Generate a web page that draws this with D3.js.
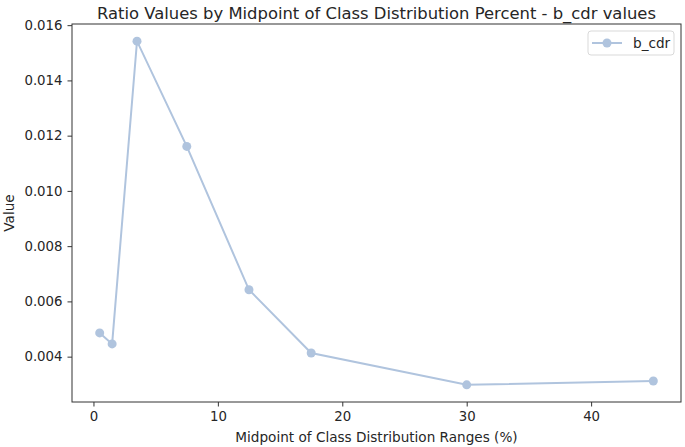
<!DOCTYPE html>
<html>
<head>
<meta charset="utf-8">
<script src="https://cdn.jsdelivr.net/npm/d3@7"></script>
<style>
    body { margin: 0; background: #fff; }
    svg text { font-family: "DejaVu Sans", sans-serif; fill: #262626; }
</style>
</head>
<body>
<div id="chart"></div>
<script>
// midpoints of the class distribution ranges (%)
const midpoints = [0.5, 1.5, 3.5, 7.5, 12.5, 17.5, 30, 45];
const bCdr = [0.00486, 0.00446, 0.01542, 0.01161, 0.00642, 0.00413, 0.00298, 0.00312];
const xTicks = [0, 10, 20, 30, 40];
const yTicks = [0.004, 0.006, 0.008, 0.010, 0.012, 0.014, 0.016];
const seriesName = "b_cdr";

const width = 685, height = 447;
const margin = { top: 24, right: 4, bottom: 45, left: 72 };
const innerW = width - margin.left - margin.right;
const innerH = height - margin.top - margin.bottom;
const color = "#b0c4de";

const svg = d3.select("#chart")
    .append("svg")
    .attr("width", width)
    .attr("height", height);

const g = svg.append("g")
    .attr("transform", `translate(${margin.left},${margin.top})`);

// matplotlib style 5% padding on both axes
const xExt = d3.extent(midpoints), yExt = d3.extent(bCdr);
const xPad = (xExt[1] - xExt[0]) * 0.05, yPad = (yExt[1] - yExt[0]) * 0.05;

const x = d3.scaleLinear().domain([xExt[0] - xPad, xExt[1] + xPad]).range([0, innerW]);
const y = d3.scaleLinear().domain([yExt[0] - yPad, yExt[1] + yPad]).range([innerH, 0]);

const xAxis = g.append("g")
    .attr("transform", `translate(0,${innerH})`)
    .call(d3.axisBottom(x).tickValues(xTicks).tickSize(4.5).tickPadding(5).tickFormat(d3.format("d")));

const yAxis = g.append("g")
    .call(d3.axisLeft(y).tickValues(yTicks).tickSize(4.5).tickPadding(5).tickFormat(d3.format(".3f")));

[xAxis, yAxis].forEach(a => {
    a.selectAll("text").attr("font-size", 13.3).style("font-family", "DejaVu Sans, sans-serif").attr("fill", "#262626");
    a.selectAll("line").attr("stroke", "#333");
    a.select(".domain").remove();
});

// frame
g.append("rect")
    .attr("width", innerW)
    .attr("height", innerH)
    .attr("fill", "none")
    .attr("stroke", "#333")
    .attr("stroke-width", 1);

const line = d3.line()
    .x((d, i) => x(midpoints[i]))
    .y(d => y(d));

g.append("path")
    .datum(bCdr)
    .attr("d", line)
    .attr("fill", "none")
    .attr("stroke", color)
    .attr("stroke-width", 2);

g.selectAll(".dot")
    .data(bCdr)
    .join("circle")
    .attr("class", "dot")
    .attr("cx", (d, i) => x(midpoints[i]))
    .attr("cy", d => y(d))
    .attr("r", 4.5)
    .attr("fill", color);

// title and axis labels
svg.append("text")
    .attr("x", margin.left + innerW / 2)
    .attr("y", 19)
    .attr("text-anchor", "middle")
    .attr("font-size", 16.4)
    .text("Ratio Values by Midpoint of Class Distribution Percent - b_cdr values");

svg.append("text")
    .attr("x", margin.left + innerW / 2)
    .attr("y", 442)
    .attr("text-anchor", "middle")
    .attr("font-size", 13.6)
    .text("Midpoint of Class Distribution Ranges (%)");

svg.append("text")
    .attr("transform", `translate(14,${margin.top + innerH / 2}) rotate(-90)`)
    .attr("text-anchor", "middle")
    .attr("font-size", 13.6)
    .text("Value");

// legend
const legend = svg.append("g").attr("transform", "translate(588,31)");
legend.append("rect")
    .attr("width", 86)
    .attr("height", 24)
    .attr("rx", 3)
    .attr("fill", "#fff")
    .attr("stroke", "#d9d9d9");
legend.append("line")
    .attr("x1", 4).attr("x2", 34)
    .attr("y1", 12).attr("y2", 12)
    .attr("stroke", color)
    .attr("stroke-width", 2);
legend.append("circle")
    .attr("cx", 19).attr("cy", 12).attr("r", 4.5)
    .attr("fill", color);
legend.append("text")
    .attr("x", 45).attr("y", 17)
    .attr("font-size", 13.6)
    .text(seriesName);
</script>
</body>
</html>
